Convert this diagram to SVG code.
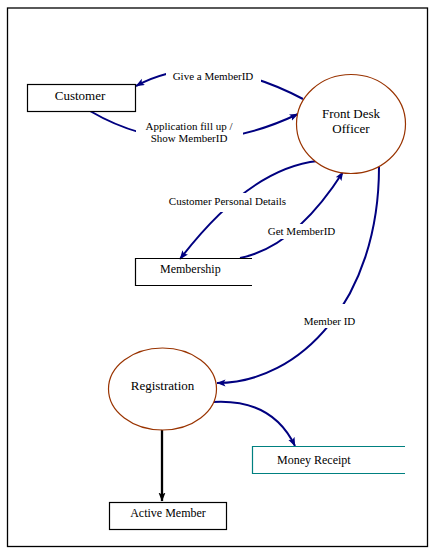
<svg xmlns="http://www.w3.org/2000/svg" width="433" height="551" viewBox="0 0 433 551">
<style>
text{font-family:"Liberation Serif","Times New Roman",serif;fill:#000;}
.t13{font-size:13px;}
.t12{font-size:12px;}
.lbl{font-size:11px;text-anchor:middle;}
.box{fill:#fff;stroke:#000;stroke-width:1.2;}
.proc{fill:#fff;stroke:#993300;stroke-width:1.2;}
.flow{fill:none;stroke:#000080;stroke-width:2;}
.mask{fill:#fff;stroke:none;}
</style>
<defs>
<marker id="ah" markerUnits="userSpaceOnUse" markerWidth="10" markerHeight="8" refX="8.5" refY="3.5" orient="auto">
<path d="M0,0 L9,3.5 L0,7 L2,3.5 Z" fill="#000080"/>
</marker>
<marker id="ahk" markerUnits="userSpaceOnUse" markerWidth="10" markerHeight="8" refX="8.5" refY="3.5" orient="auto">
<path d="M0,0 L9,3.5 L0,7 L2,3.5 Z" fill="#000"/>
</marker>
</defs>
<rect x="0" y="0" width="433" height="551" fill="#fff"/>
<rect x="7.5" y="8" width="420" height="538.5" fill="none" stroke="#000" stroke-width="1.3"/>

<g id="connectors">
<path class="flow" d="M303,99 Q206,48 136,86" marker-end="url(#ah)"/>
<path class="flow" d="M90,111 Q186,167 298,114" marker-end="url(#ah)"/>
<path class="flow" d="M318,161 Q250,168 180,259" marker-end="url(#ah)"/>
<path class="flow" d="M240,258 Q295,247 343,172" marker-end="url(#ah)"/>
<path class="flow" d="M379,167 C379,300 300,383 217,383" marker-end="url(#ah)"/>
<path class="flow" d="M212,402 Q272,398 295,446" marker-end="url(#ah)"/>
<path fill="none" stroke="#000" stroke-width="2.3" d="M162,429 V501" marker-end="url(#ahk)"/>
<rect class="mask" x="166" y="66" width="95" height="18"/>
<rect class="mask" x="136" y="119" width="107" height="28"/>
<rect class="mask" x="166" y="193" width="122" height="19"/>
<rect class="mask" x="265" y="224" width="73" height="15"/>
<rect class="mask" x="300" y="304" width="60" height="24"/>
<text class="lbl" x="213" y="80">Give a MemberID</text>
<text class="lbl" x="189" y="130">Application fill up /</text>
<text class="lbl" x="189" y="142">Show MemberID</text>
<text class="lbl" x="227.5" y="205">Customer Personal Details</text>
<text class="lbl" x="301.5" y="235">Get MemberID</text>
<text class="lbl" x="329.5" y="325">Member ID</text>
</g>

<g id="customer">
<rect class="box" x="27.5" y="84.5" width="108" height="27"/>
<text class="t13" x="80" y="99.5" text-anchor="middle">Customer</text>
</g>

<g id="front-desk-officer">
<ellipse class="proc" cx="351" cy="124" rx="54.5" ry="49.5"/>
<text class="t13" x="351" y="117.5" text-anchor="middle">Front Desk</text>
<text class="t13" x="351" y="132.5" text-anchor="middle">Officer</text>
</g>

<g id="membership">
<path d="M252,258.5 H135.5 V285.5 H252" fill="none" stroke="#000" stroke-width="1.2"/>
<text class="t12" x="160" y="272.5">Membership</text>
</g>

<g id="registration">
<ellipse class="proc" cx="162.5" cy="389" rx="54" ry="41"/>
<text class="t13" x="162.5" y="390" text-anchor="middle">Registration</text>
</g>

<g id="money-receipt">
<path d="M405,446.5 H252.5 V473.5 H405" fill="none" stroke="#008080" stroke-width="1.2"/>
<text class="t12" x="277" y="463.5">Money Receipt</text>
</g>

<g id="active-member">
<rect class="box" x="109.5" y="502.5" width="117" height="27"/>
<text class="t12" x="168" y="516.5" text-anchor="middle">Active Member</text>
</g>
</svg>
